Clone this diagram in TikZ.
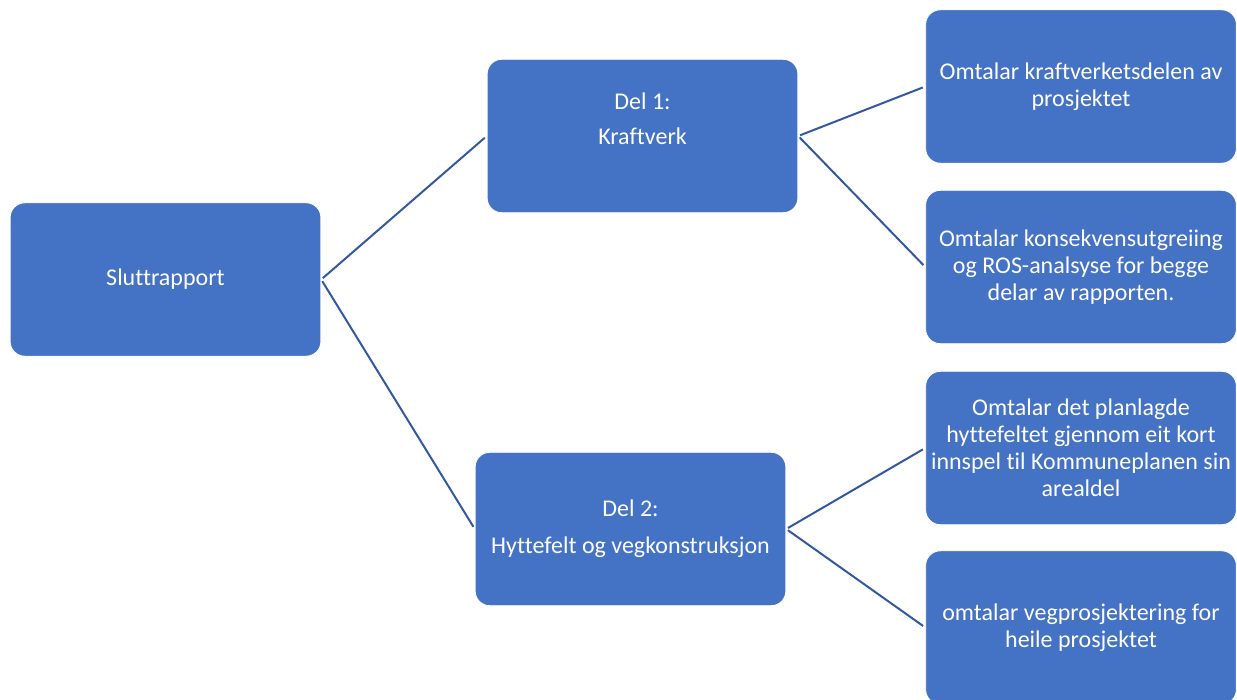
\documentclass[tikz,border=0pt]{standalone}
\usepackage{fontspec}
\setmainfont[Ligatures=NoCommon]{Carlito}
\definecolor{boxblue}{RGB}{68,114,196}
\definecolor{lineblue}{RGB}{52,88,160}
\begin{document}
\begin{tikzpicture}[x=0.75pt,y=-0.75pt]
    \tikzset{part/.style = {shape=rectangle,rounded corners=11pt,fill=boxblue,draw=white,line width=0.6pt,
        minimum width=233pt,minimum height=115pt,text=white,align=center,
        font=\fontsize{18}{20.25}\selectfont,inner sep=0pt}}
    \tikzset{link/.style = {draw=lineblue,line width=1.5pt,shorten <=1.5pt,shorten >=2pt}}
    \useasboundingbox (0,0) rectangle (1237,699);
    \node[part] (slutt) at (165.5,279.5) {Sluttrapport};
    \node[part] (del1) at (642.5,136) {Del 1:\\[6pt]Kraftverk\\[6pt]\mbox{}};
    \node[part] (del2) at (630.5,529) {Del 2:\\[7.5pt]Hyttefelt og vegkonstruksjon};
    \node[part] (kraft) at (1081,86.5) {Omtalar kraftverketsdelen av\\prosjektet};
    \node[part] (kons) at (1081,267) {Omtalar konsekvensutgreiing\\og ROS-analsyse for begge\\delar av rapporten.};
    \node[part] (hytte) at (1081,448) {Omtalar det planlagde\\hyttefeltet gjennom eit kort\\innspel til Kommuneplanen sin\\arealdel};
    \node[part] (veg) at (1081,627.5) {omtalar vegprosjektering for\\heile prosjektet};
    \draw[link] (slutt.east) -- (del1.west);
    \draw[link] (slutt.east) -- (del2.west);
    \draw[link] (del1.east) -- (kraft.west);
    \draw[link] (del1.east) -- (kons.west);
    \draw[link] (del2.east) -- (hytte.west);
    \draw[link] (del2.east) -- (veg.west);
\end{tikzpicture}
\end{document}
